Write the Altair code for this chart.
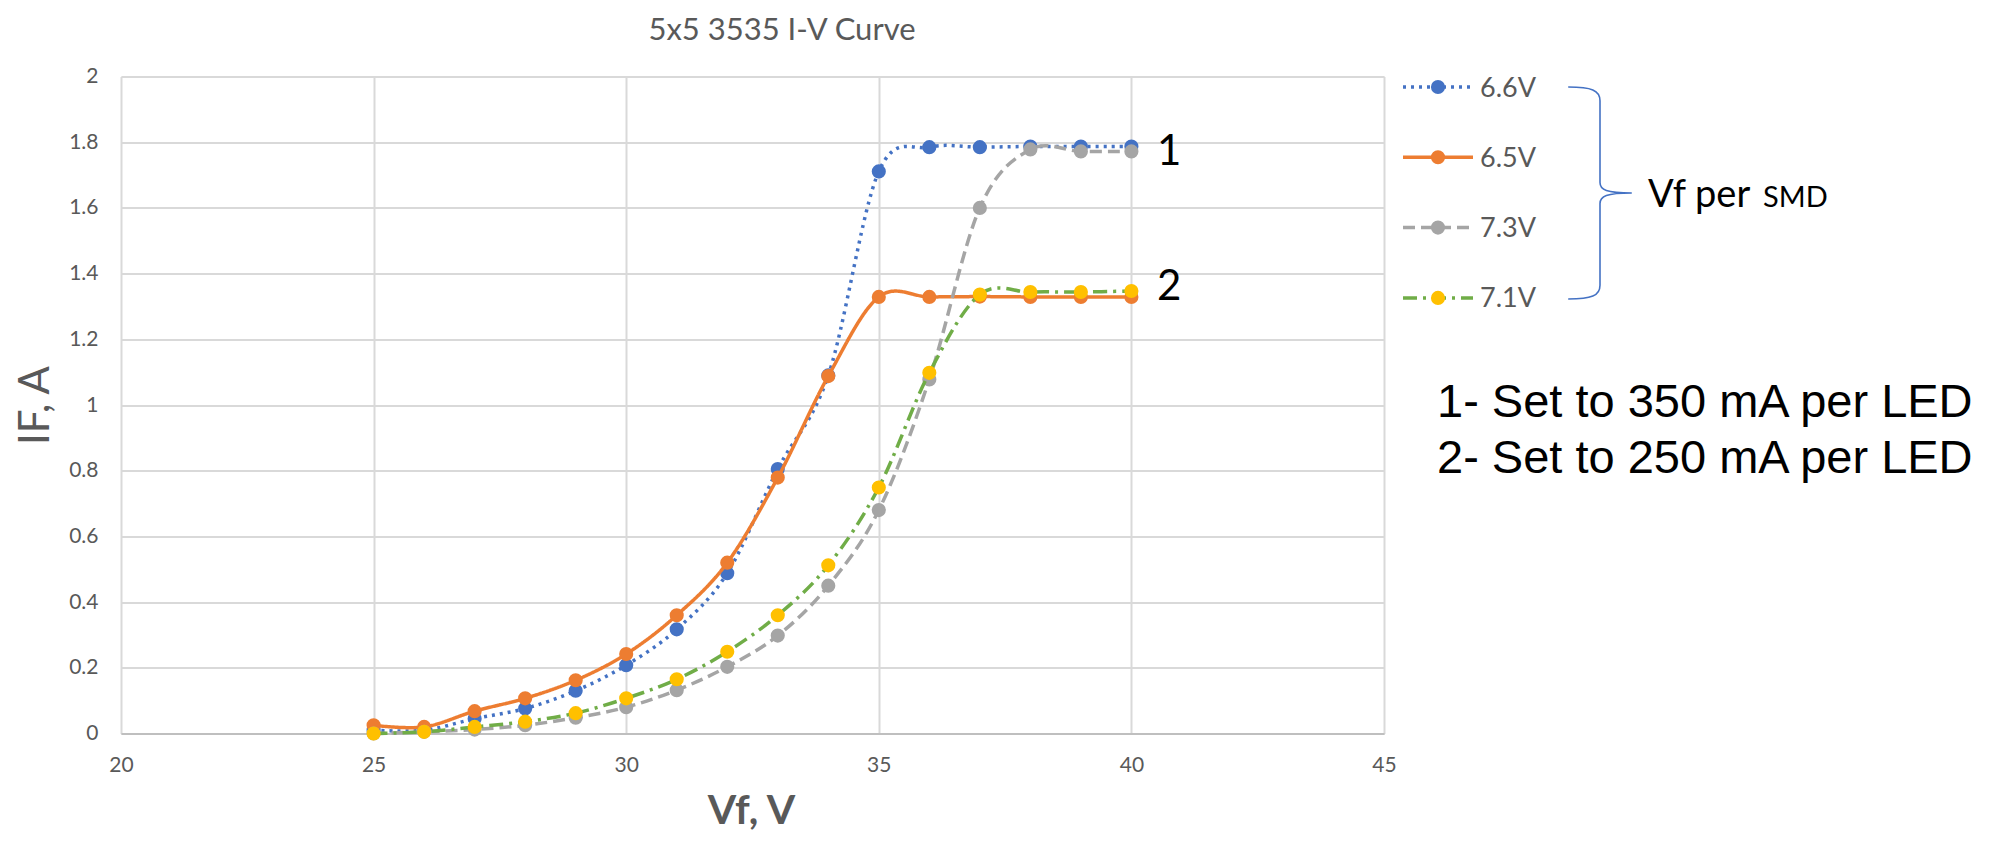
import altair as alt
import pandas as pd

# ---------------- data ----------------
vf = [25, 26, 27, 28, 29, 30, 31, 32, 33, 34, 35, 36, 37, 38, 39, 40]
series_names = ["6.6V", "6.5V", "7.3V", "7.1V"]
i_66 = [0.01, 0.01, 0.045, 0.076, 0.13, 0.208, 0.317, 0.488, 0.805, 1.09, 1.711, 1.785, 1.785, 1.787, 1.787, 1.787]
i_65 = [0.025, 0.02, 0.068, 0.107, 0.162, 0.242, 0.36, 0.52, 0.779, 1.088, 1.329, 1.329, 1.33, 1.329, 1.329, 1.329]
i_73 = [0.0, 0.005, 0.012, 0.025, 0.048, 0.08, 0.132, 0.203, 0.298, 0.45, 0.68, 1.078, 1.6, 1.778, 1.772, 1.772]
i_71 = [0.0, 0.005, 0.02, 0.036, 0.062, 0.107, 0.165, 0.249, 0.36, 0.512, 0.749, 1.098, 1.336, 1.344, 1.344, 1.347]
x_ticks = [20, 25, 30, 35, 40, 45]
y_ticks = [0, 0.2, 0.4, 0.6, 0.8, 1, 1.2, 1.4, 1.6, 1.8, 2]
chart_title = "5x5 3535 I-V Curve"
note_lines = ["1- Set to 350 mA per LED", "2- Set to 250 mA per LED"]

# ---------------- styles ----------------
line_colors = ["#4472C4", "#ED7D31", "#A5A5A5", "#70AD47"]
marker_colors = ["#4472C4", "#ED7D31", "#A5A5A5", "#FFC000"]
dashes = [[3, 5], [1, 0], [12, 6], [14, 6, 3, 6]]
GRAY_TXT = "#595959"
FONT = "Lato"

rows = []
for name, vals in zip(series_names, [i_66, i_65, i_73, i_71]):
    for v, i in zip(vf, vals):
        rows.append({"series": name, "vf": v, "i": i})
df = pd.DataFrame(rows)

color_scale = alt.Scale(domain=series_names, range=line_colors)
fill_scale = alt.Scale(domain=series_names, range=marker_colors)
dash_scale = alt.Scale(domain=series_names, range=dashes)

x_enc = alt.X(
    "vf:Q",
    scale=alt.Scale(domain=[20, 45], nice=False, zero=False),
    axis=alt.Axis(
        values=x_ticks, title="Vf, V", grid=True, gridColor="#D9D9D9", gridWidth=2,
        domain=True, domainColor="#BFBFBF", domainWidth=2, ticks=False,
        labelFont=FONT, labelFontSize=21, labelColor=GRAY_TXT, labelPadding=21,
        labelFlush=False,
        titleFont=FONT, titleFontSize=41, titleFontWeight="bold", titleColor=GRAY_TXT,
        titleX=630, titleY=90, titleBaseline="alphabetic", titleAlign="center",
    ),
)
y_enc = alt.Y(
    "i:Q",
    scale=alt.Scale(domain=[0, 2], nice=False),
    axis=alt.Axis(
        values=y_ticks, format="~g", title="IF, A", grid=True, gridColor="#D9D9D9", gridWidth=2,
        domain=False, ticks=False,
        labelFont=FONT, labelFontSize=21, labelColor=GRAY_TXT, labelPadding=23,
        labelFlush=False,
        titleFont=FONT, titleFontSize=42, titleFontWeight="normal", titleColor=GRAY_TXT,
        titleX=-73, titleY=328.5, titleAngle=270, titleBaseline="alphabetic", titleAlign="center",
    ),
)

base = alt.Chart(df)
layers = []
for s in series_names:
    sub = base.transform_filter(alt.datum.series == s)
    layers.append(
        sub.mark_line(interpolate="cardinal", strokeWidth=3.5).encode(
            x=x_enc, y=y_enc,
            color=alt.Color("series:N", scale=color_scale, legend=None),
            strokeDash=alt.StrokeDash("series:N", scale=dash_scale, legend=None),
        )
    )
    layers.append(
        sub.mark_circle(size=200, opacity=1).encode(
            x=x_enc, y=y_enc,
            fill=alt.Fill("series:N", scale=fill_scale, legend=None),
        )
    )

# ---------------- custom legend ----------------
leg_df = pd.DataFrame({"series": series_names, "idx": list(range(len(series_names)))})
leg = alt.Chart(leg_df).transform_calculate(ly="10.5 + 70.3 * datum.idx")
ly = alt.Y("ly:Q", scale=None, axis=None)
leg_rule = leg.mark_rule(strokeWidth=3.5).encode(
    x=alt.value(1282), x2=alt.value(1352), y=ly,
    color=alt.Color("series:N", scale=color_scale, legend=None),
    strokeDash=alt.StrokeDash("series:N", scale=dash_scale, legend=None),
)
leg_pt = leg.mark_circle(size=200, opacity=1).encode(
    x=alt.value(1317), y=ly,
    fill=alt.Fill("series:N", scale=fill_scale, legend=None),
)
leg_txt = leg.mark_text(align="left", baseline="alphabetic", dy=9.5, font=FONT, fontSize=27,
                        color=GRAY_TXT).encode(x=alt.value(1359), y=ly, text="series:N")

# ---------------- annotations ----------------
one = pd.DataFrame({"a": [0]})
title_mark = alt.Chart(one).mark_text(align="center", baseline="alphabetic", font=FONT,
                                      fontSize=31, color=GRAY_TXT).encode(
    x=alt.value(661), y=alt.value(-37), text=alt.value(chart_title))
BRACE = ("M-0.3,-1 C-0.08,-1 0,-0.97 0,-0.87 L0,-0.1 C0,-0.03 0.06,0 0.3,0 "
         "C0.06,0 0,0.03 0,0.1 L0,0.87 C0,0.97 -0.08,1 -0.3,1")
brace = alt.Chart(one).mark_point(shape=BRACE, size=44944, filled=False, stroke="#4472C4",
                                  strokeWidth=1.6, opacity=1).encode(
    x=alt.value(1479), y=alt.value(116.5))
vf_per = alt.Chart(one).mark_text(align="left", baseline="alphabetic", font=FONT, fontSize=38,
                                  color="black").encode(
    x=alt.value(1527), y=alt.value(130.5), text=alt.value("Vf per"))
smd = alt.Chart(one).mark_text(align="left", baseline="alphabetic", font=FONT, fontSize=29,
                               color="black").encode(
    x=alt.value(1642), y=alt.value(130.5), text=alt.value("SMD"))
lab1 = alt.Chart(one).mark_text(align="left", baseline="alphabetic", font=FONT, fontSize=42,
                                color="black").encode(
    x=alt.value(1036), y=alt.value(88.5), text=alt.value("1"))
lab2 = alt.Chart(one).mark_text(align="left", baseline="alphabetic", font=FONT, fontSize=42,
                                color="black").encode(
    x=alt.value(1036), y=alt.value(223.5), text=alt.value("2"))
note1 = alt.Chart(one).mark_text(align="left", baseline="alphabetic", font="Liberation Sans",
                                 fontSize=47, color="black").encode(
    x=alt.value(1316), y=alt.value(340), text=alt.value(note_lines[0]))
note2 = alt.Chart(one).mark_text(align="left", baseline="alphabetic", font="Liberation Sans",
                                 fontSize=47, color="black").encode(
    x=alt.value(1316), y=alt.value(396.5), text=alt.value(note_lines[1]))

chart = alt.layer(
    *layers, leg_rule, leg_pt, leg_txt, title_mark, brace, vf_per, smd, lab1, lab2, note1, note2
).properties(
    width=1263, height=657,
    padding={"left": 113, "top": 68.5, "right": 608, "bottom": 100.5},
    autosize=alt.AutoSizeParams(type="none"),
).configure_view(strokeWidth=0).configure(background="white")

chart.save("out.html", embed_options={"renderer": "svg", "actions": False})
